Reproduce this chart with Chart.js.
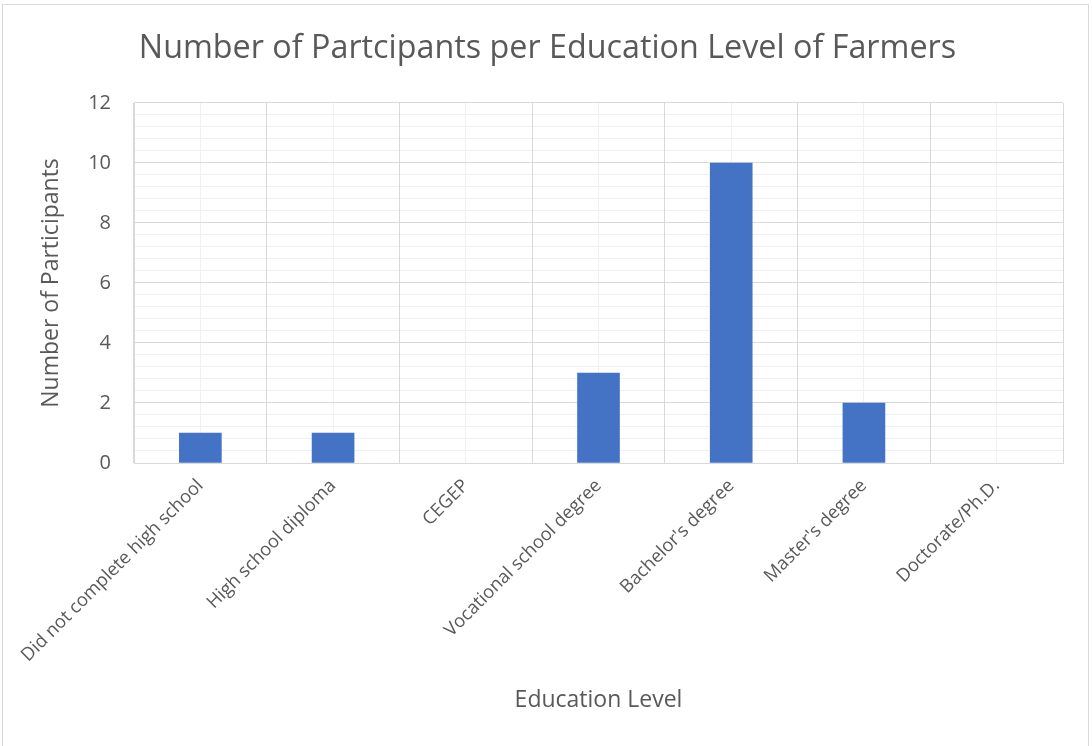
<!DOCTYPE html>
<html>
<head>
<meta charset="utf-8">
<title>Number of Partcipants per Education Level of Farmers</title>
<script src="https://cdn.jsdelivr.net/npm/chart.js@4/dist/chart.umd.min.js"></script>
<style>
  html, body { margin: 0; padding: 0; background: #ffffff; }
  #wrap { position: relative; width: 1092px; height: 746px; overflow: hidden; }
  #frame { position: absolute; left: 2px; top: 4px; width: 1087px; height: 760px;
           border: 1px solid #d9d9d9; box-sizing: border-box; pointer-events: none; }
  canvas { display: block; }
</style>
</head>
<body>
<div id="wrap">
  <canvas id="chart" width="1092" height="746"></canvas>
  <div id="frame"></div>
</div>
<script>
// Education levels of the participating farmers
const categories = [
  "Did not complete high school",
  "High school diploma",
  "CEGEP",
  "Vocational school degree",
  "Bachelor's degree",
  "Master's degree",
  "Doctorate/Ph.D."
];
// Number of participants in each level
const participants = [1, 1, 0, 3, 10, 2, 0];
// Value axis: labelled ticks every 2, minor gridlines every 0.4
const yMax = 12;
const yMinorStep = 0.4;
const yLabelStep = 2;

const FONT = "'Open Sans', 'Noto Sans', sans-serif";
const TEXT = '#595959';
const MAJOR = '#d9d9d9';
const MINOR = '#f0f0f0';
const BAR = '#4472c4';

const isLabelled = v => Math.abs(v / yLabelStep - Math.round(v / yLabelStep)) < 1e-6;

new Chart(document.getElementById('chart'), {
  type: 'bar',
  data: {
    labels: categories,
    datasets: [{
      label: 'Number of Participants',
      data: participants,
      // empty categories get no visible sliver
      backgroundColor: ctx => (ctx.raw ? BAR : 'rgba(0,0,0,0)'),
      borderWidth: 0,
      barThickness: 42,
      xAxisID: 'x',
      yAxisID: 'y'
    }]
  },
  options: {
    responsive: false,
    animation: false,
    layout: { padding: { top: 0, right: 29, bottom: 0, left: 32 } },
    plugins: {
      legend: { display: false },
      tooltip: { enabled: false },
      title: {
        display: true,
        text: 'Number of Partcipants per Education Level of Farmers',
        color: TEXT,
        font: { family: FONT, size: 32.3, weight: 'normal' },
        padding: { top: 29, bottom: 35.2 }
      }
    },
    scales: {
      xMinor: {
        type: 'category',
        position: 'top',
        offset: true,
        labels: categories,
        grid: { display: true, offset: false, color: MINOR, lineWidth: 1, drawTicks: false },
        border: { display: false },
        ticks: { display: false }
      },
      y: {
        type: 'linear',
        min: 0,
        max: yMax,
        afterFit: s => { s.width = 102; },
        ticks: {
          stepSize: yMinorStep,
          maxTicksLimit: 100,
          autoSkip: false,
          padding: 23,
          color: TEXT,
          font: { family: FONT, size: 20 },
          callback: v => isLabelled(v) ? String(Math.round(v)) : ''
        },
        grid: {
          drawTicks: false,
          lineWidth: 1,
          color: ctx => (ctx.tick && isLabelled(ctx.tick.value)) ? MAJOR : MINOR
        },
        border: { display: true, color: MAJOR },
        title: {
          display: true,
          text: 'Number of Participants',
          color: TEXT,
          font: { family: FONT, size: 23 },
          padding: { top: 6, bottom: 0 }
        }
      },
      x: {
        type: 'category',
        position: 'bottom',
        offset: true,
        afterFit: s => { s.height = 283; s.paddingLeft = 0; s.paddingRight = 0; },
        grid: { display: true, offset: true, color: MAJOR, lineWidth: 1, drawTicks: false },
        border: { display: true, color: MAJOR },
        ticks: {
          autoSkip: false,
          minRotation: 45,
          maxRotation: 45,
          padding: 12,
          color: TEXT,
          font: { family: FONT, size: 18.3 }
        },
        title: {
          display: true,
          text: 'Education Level',
          color: TEXT,
          font: { family: FONT, size: 23 },
          padding: { top: 0, bottom: 32 }
        }
      }
    }
  }
});
</script>
</body>
</html>
